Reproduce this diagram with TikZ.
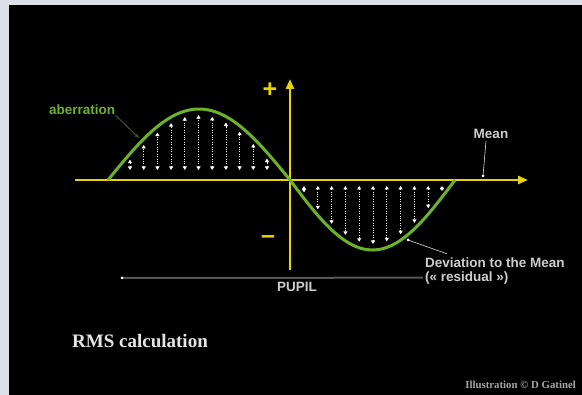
\documentclass[tikz,border=0pt]{standalone}
\usepackage{fontspec}
\setmainfont{Liberation Serif}
\setsansfont{Liberation Sans}
\usetikzlibrary{positioning, arrows.meta}
\definecolor{axisyellow}{RGB}{232,212,0}
\definecolor{aberrgreen}{RGB}{108,178,40}
\definecolor{darkgreen}{RGB}{50,95,30}
\definecolor{pupilgray}{RGB}{90,86,86}
\definecolor{labelgray}{RGB}{205,205,205}
\definecolor{framegray}{RGB}{221,224,232}

\begin{document}
\begin{tikzpicture}[x=1pt, y=-1pt,
    axis/.style={axisyellow, line width=2.5pt, -{Triangle[length=10pt, width=8pt]}},
    curve/.style={aberrgreen, line width=3pt, line join=round},
    dev/.style={white, dash pattern=on 0.8pt off 1.6pt, line width=0.8pt,
                {Triangle[length=3.5pt, width=4pt]}-{Triangle[length=3.5pt, width=4pt]}},
    lbl/.style={font=\sffamily\bfseries\fontsize{13.5}{15}\selectfont, text=labelgray, inner sep=0pt},
    ptr/.style={labelgray!70, line width=0.6pt},
    sign/.style={font=\sffamily\bfseries\fontsize{25}{25}\selectfont, text=axisyellow, inner sep=0pt},
]
    \useasboundingbox (0,0) rectangle (582,395);
    \fill[framegray] (0,0) rectangle (582,395);
    \fill[black] (9,5) rectangle (582,395);

    % axes
    \coordinate (xs) at (75,180);
    \coordinate (xe) at (528,180);
    \coordinate (ys) at (290,270);
    \coordinate (ye) at (290,79);
    \draw[axis] (xs) -- (xe);
    \draw[axis] (ys) -- (ye);
    \node[sign] (plus)  at (270,90)  {+};
    \node[sign] (minus) at (268,240) {–};

    % deviations
    \foreach \i in {0,...,10} {
        \pgfmathsetmacro{\xx}{130+13.7*\i}
        \pgfmathsetmacro{\yy}{180-71*sin((\xx-108)/182*180)+6}
        \draw[dev] (\xx,170) -- (\xx,\yy);
    }
    \foreach \i in {0,...,10} {
        \pgfmathsetmacro{\xx}{304+13.8*\i}
        \pgfmathsetmacro{\yy}{180+70*sin((\xx-290)/165*180)-6}
        \draw[dev] (\xx,186) -- (\xx,\yy);
    }

    % aberration
    \draw[curve] plot[domain=108:290, samples=60] (\x,{180-71*sin((\x-108)/182*180)})
        -- plot[domain=290:455, samples=60] (\x,{180+70*sin((\x-290)/165*180)});

    \node[lbl, text=aberrgreen, anchor=west] (aberr) at (49,110) {aberration};
    \coordinate (aberrpt) at (139,138);
    \draw[darkgreen, line width=1pt, -{Stealth[length=5pt, width=4pt]}] (aberr.south east) -- (aberrpt);

    \node[lbl] (mean) at (491,134) {Mean};
    \coordinate (meanpt) at (483,176);
    \draw[ptr] ([xshift=-5pt, yshift=-2pt]mean.south) -- (meanpt);
    \fill[white] (meanpt) circle (1.5pt);

    \node[lbl, anchor=west] (devlbl) at (425,263) {Deviation to the Mean};
    \node[lbl, below=3pt of devlbl.south west, anchor=north west] (resid) {(« residual »)};
    \coordinate (devpt) at (408,240);
    \draw[ptr] (devpt) -- ([xshift=22pt, yshift=4pt]devlbl.north west);
    \fill[white] (devpt) circle (1.5pt);

    % pupil
    \coordinate (pupilL) at (122,278);
    \draw[pupilgray, line width=2pt] (pupilL) -- ([xshift=-2pt]resid.west);
    \fill[white] (pupilL) circle (1.5pt);
    \node[lbl] (pupil) at (297,287) {PUPIL};

    \node[font=\bfseries\fontsize{19}{19}\selectfont, text=white!90!black, anchor=west, inner sep=0pt]
        (rms) at (72,341) {RMS calculation};
    \node[font=\bfseries\fontsize{10.8}{10.8}\selectfont, text=gray!70!white, anchor=east, inner sep=0pt]
        (credit) at (576,385) {Illustration © D Gatinel};
\end{tikzpicture}
\end{document}
